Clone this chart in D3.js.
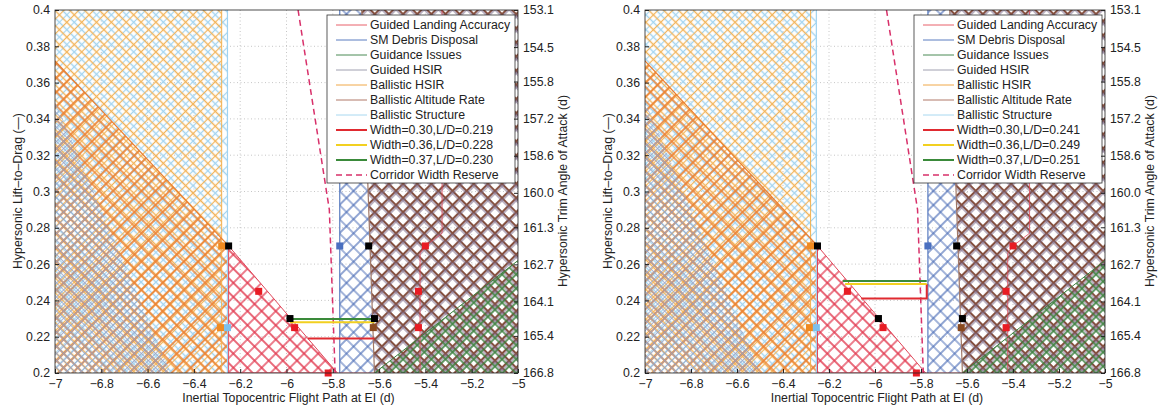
<!DOCTYPE html>
<html>
<head>
<meta charset="utf-8">
<script src="https://cdn.jsdelivr.net/npm/d3@7"></script>
<style>
  body { margin: 0; background: #fff; }
  svg text { font-family: "Liberation Sans", Arial, Helvetica, sans-serif; fill: #222; }
</style>
</head>
<body>
<svg id="chart" width="1161" height="408"></svg>
<script>
// ---- data ----
const xTicks = [-7, -6.8, -6.6, -6.4, -6.2, -6, -5.8, -5.6, -5.4, -5.2, -5];
const yTicks = [0.2, 0.22, 0.24, 0.26, 0.28, 0.3, 0.32, 0.34, 0.36, 0.38, 0.4];
const trimTicks = [166.8, 165.4, 164.1, 162.7, 161.3, 160.0, 158.6, 157.2, 155.8, 154.5, 153.1];

// constraint regions (flight path angle, L/D)
const ballisticStructure = [[-7, 0.2], [-6.255, 0.2], [-6.255, 0.4], [-7, 0.4]];
const ballisticHSIR = [[-7, 0.2], [-6.28, 0.2], [-6.28, 0.4], [-7, 0.4]];
const ballisticHSIRLow = [[-7, 0.2], [-7, 0.372], [-6.25, 0.27], [-6.25, 0.2]];
const guidedHSIRLow = [[-7, 0.2], [-7, 0.35], [-6.5, 0.2]];
const landingAccuracy = [[-6.25, 0.27], [-5.78, 0.2], [-6.25, 0.2]];
const landingEdge = [[-5.328, 0.4], [-5.328, 0.277], [-5.40, 0.27], [-5.423, 0.266], [-5.423, 0.2]];
const debrisDisposal = [[-5.77, 0.2], [-5.77, 0.4], [-5.675, 0.4], [-5.62, 0.2]];
const altitudeRate = [[-5.675, 0.4], [-5, 0.4], [-5, 0.2], [-5.62, 0.2]];
const guidanceIssues = [[-5.62, 0.2], [-5, 0.262], [-5, 0.2]];
const corridorReserve = [[-5.95, 0.4], [-5.815, 0.29], [-5.79, 0.2]];

// corridor width lines, one set per panel
const leftWidthLabels = ['Width=0.30,L/D=0.219', 'Width=0.36,L/D=0.228', 'Width=0.37,L/D=0.230'];
const leftWidthLines = [
  [[-5.908, 0.219], [-5.62, 0.219]],
  [[-5.985, 0.228], [-5.62, 0.228]],
  [[-5.99, 0.2298], [-5.62, 0.2298]]
];
const rightWidthLabels = ['Width=0.30,L/D=0.241', 'Width=0.36,L/D=0.249', 'Width=0.37,L/D=0.251'];
const rightWidthLines = [
  [[-6.06, 0.241], [-5.775, 0.241], [-5.775, 0.249]],
  [[-6.13, 0.249], [-5.775, 0.249]],
  [[-6.14, 0.2507], [-5.775, 0.2507]]
];

// boundary points
const blackPts = [[-6.25, 0.27], [-5.985, 0.23], [-5.62, 0.23], [-5.645, 0.27]];
const redPts = [[-6.12, 0.245], [-5.965, 0.225], [-5.82, 0.2], [-5.40, 0.27], [-5.43, 0.245], [-5.43, 0.225]];
const orangePts = [[-6.285, 0.225], [-6.28, 0.27]];
const lightBluePts = [[-6.255, 0.225]];
const bluePts = [[-5.77, 0.27]];
const brownPts = [[-5.625, 0.225]];

const legendLabels = ['Guided Landing Accuracy', 'SM Debris Disposal', 'Guidance Issues', 'Guided HSIR',
  'Ballistic HSIR', 'Ballistic Altitude Rate', 'Ballistic Structure'];

// ---- layout ----
const TOP = 10, BOTTOM = 373;
const panels = [
  { x0: 55, x1: 518, widths: leftWidthLines, labels: leftWidthLabels },
  { x0: 645, x1: 1105, widths: rightWidthLines, labels: rightWidthLabels }
];

const svg = d3.select('#chart');
const defs = svg.append('defs');

// hatch patterns: id, colour, spacing, stroke width, offset
const hatches = [
  ['hStructure', '#a3d4f0', 10.5, 1.2, 0],
  ['hHSIR', '#f2b45a', 10.5, 1.2, 5.25],
  ['hHSIRLow', '#ec8333', 10, 1.7, 0],
  ['hGuidedLow', '#93a3c6', 5, 0.8, 2.5],
  ['hLanding', '#e23a50', 10, 1.3, 0],
  ['hDebris', '#4a6cb6', 10, 1.2, 0],
  ['hAltitude', '#85503f', 10, 2.1, 0],
  ['hGuidedHSIR', '#7a6888', 10, 1, 1.8],
  ['hGuidance', '#3d7f3f', 10, 1.6, 4]
];
hatches.forEach(([id, color, s, w, dx]) => {
  const p = defs.append('pattern')
    .attr('id', id)
    .attr('patternUnits', 'userSpaceOnUse')
    .attr('width', s).attr('height', s)
    .attr('patternTransform', `rotate(45) translate(${dx},${dx})`);
  p.append('path')
    .attr('d', `M0,${s / 2}H${s}M${s / 2},0V${s}`)
    .attr('stroke', color).attr('stroke-width', w).attr('fill', 'none');
});

const legendStyles = [
  { c: '#e8606a', w: 1 }, { c: '#5a7cc0', w: 1 }, { c: '#4a8a55', w: 1 }, { c: '#a0a0b0', w: 1 },
  { c: '#f0a848', w: 1 }, { c: '#b07868', w: 1 }, { c: '#a8d8f0', w: 1 },
  { c: '#e02a30', w: 2 }, { c: '#f2d020', w: 2 }, { c: '#3a8a3a', w: 2 },
  { c: '#d8306a', w: 1.5, dash: '6,4' }
];

panels.forEach((pn, i) => drawPanel(pn, i));

function drawPanel(pn, idx) {
  const x = d3.scaleLinear().domain([-7, -5]).range([pn.x0, pn.x1]);
  const y = d3.scaleLinear().domain([0.2, 0.4]).range([BOTTOM, TOP]);
  const yTrim = d3.scaleLinear().domain([166.8, 153.1]).range([BOTTOM, TOP]);
  const line = d3.line().x(d => x(d[0])).y(d => y(d[1]));

  const g = svg.append('g');
  defs.append('clipPath').attr('id', 'clip' + idx)
    .append('rect').attr('x', pn.x0).attr('y', TOP)
    .attr('width', pn.x1 - pn.x0).attr('height', BOTTOM - TOP);

  // grid
  const grid = g.append('g').attr('stroke', '#b8b8b8').attr('stroke-dasharray', '1,2.5').attr('stroke-width', 0.8);
  grid.selectAll('.gx').data(xTicks.slice(1, -1)).join('line')
    .attr('x1', d => x(d)).attr('x2', d => x(d)).attr('y1', TOP).attr('y2', BOTTOM);
  grid.selectAll('.gy').data(yTicks.slice(1, -1)).join('line')
    .attr('y1', d => y(d)).attr('y2', d => y(d)).attr('x1', pn.x0).attr('x2', pn.x1);

  const area = g.append('g').attr('clip-path', `url(#clip${idx})`);
  const fill = (pts, id) => area.append('path').attr('d', line(pts) + 'Z').attr('fill', `url(#${id})`);
  fill(ballisticStructure, 'hStructure');
  fill(ballisticHSIR, 'hHSIR');
  fill(ballisticHSIRLow, 'hHSIRLow');
  fill(guidedHSIRLow, 'hGuidedLow');
  fill(landingAccuracy, 'hLanding');
  fill(debrisDisposal, 'hDebris');
  fill(altitudeRate, 'hAltitude');
  fill(altitudeRate, 'hGuidedHSIR');
  fill(guidanceIssues, 'hGuidance');

  const edge = (pts, color, w, dash) => area.append('path').attr('d', line(pts))
    .attr('fill', 'none').attr('stroke', color).attr('stroke-width', w || 1)
    .attr('stroke-dasharray', dash || null);
  edge([[-6.255, 0.2], [-6.255, 0.4]], '#9fd2f0', 1.2);
  edge([[-6.28, 0.2], [-6.28, 0.4]], '#f2b150', 1);
  edge([[-7, 0.372], [-6.25, 0.27]], '#ea7c2c', 1.2);
  edge(landingAccuracy.concat([landingAccuracy[0]]), '#e0475a', 1);
  edge([[-6.25, 0.2], [-5.62, 0.2]], '#f08090', 1.2);
  edge(landingEdge, '#e0475a', 0.8);
  edge([[-5.77, 0.2], [-5.77, 0.4]], '#5a7cc0', 1.2);
  edge([[-5.675, 0.4], [-5.62, 0.2]], '#a07868', 1.2);
  edge([[-5.62, 0.2], [-5, 0.262]], '#3d7f3f', 1);
  edge(corridorReserve, '#d8306a', 1.5, '6,4');

  const wStyles = legendStyles.slice(7, 10);
  pn.widths.forEach((pts, k) => edge(pts, wStyles[k].c, 2));

  // markers
  const sq = (pts, color) => g.append('g').selectAll('rect').data(pts).join('rect')
    .attr('x', d => x(d[0]) - 3.5).attr('y', d => y(d[1]) - 3.5)
    .attr('width', 7).attr('height', 7).attr('fill', color);
  sq(orangePts, '#f08a20');
  sq(lightBluePts, '#7cc0ec');
  sq(bluePts, '#4a70c0');
  sq(brownPts, '#8a4a20');
  sq(redPts, '#e81c24');
  sq(blackPts, '#000');

  // legend
  const lg = g.append('g');
  const lx = pn.x1 - 191, lw = 188, ly = 15, lh = 168;
  lg.append('rect').attr('x', lx).attr('y', ly).attr('width', lw).attr('height', lh)
    .attr('fill', '#fff').attr('stroke', '#333').attr('stroke-width', 0.8);
  const labels = legendLabels.concat(pn.labels, ['Corridor Width Reserve']);
  labels.forEach((t, k) => {
    const yy = 25 + k * 15;
    const st = legendStyles[k];
    lg.append('line').attr('x1', lx + 9).attr('x2', lx + 40).attr('y1', yy).attr('y2', yy)
      .attr('stroke', st.c).attr('stroke-width', st.w).attr('stroke-dasharray', st.dash || null);
    lg.append('text').attr('x', lx + 43).attr('y', yy + 4.3).attr('font-size', 12.3).text(t);
  });

  // axes box and ticks
  g.append('rect').attr('x', pn.x0).attr('y', TOP).attr('width', pn.x1 - pn.x0).attr('height', BOTTOM - TOP)
    .attr('fill', 'none').attr('stroke', '#222').attr('stroke-width', 0.8);

  const fmtX = d => d3.format('')(d).replace('-', '\u2212');
  const ax = g.append('g').attr('transform', `translate(0,${BOTTOM})`)
    .call(d3.axisBottom(x).tickValues(xTicks).tickFormat(fmtX).tickSizeInner(-4).tickSizeOuter(0).tickPadding(6));
  const ay = g.append('g').attr('transform', `translate(${pn.x0},0)`)
    .call(d3.axisLeft(y).tickValues(yTicks).tickFormat(d3.format('')).tickSizeInner(-4).tickSizeOuter(0).tickPadding(5));
  const ar = g.append('g').attr('transform', `translate(${pn.x1},0)`)
    .call(d3.axisRight(yTrim).tickValues(trimTicks).tickFormat(d3.format('.1f')).tickSizeInner(-4).tickSizeOuter(0).tickPadding(5));
  [ax, ay, ar].forEach(a => {
    a.select('.domain').remove();
    a.selectAll('line').attr('stroke', '#222');
    a.selectAll('text').attr('font-size', 12.3).attr('fill', '#222')
      .style('font-family', '"Liberation Sans", Arial, sans-serif');
  });

  const mid = (pn.x0 + pn.x1) / 2;
  g.append('text').attr('x', mid + 2).attr('y', 402).attr('text-anchor', 'middle').attr('font-size', 12.3)
    .text('Inertial Topocentric Flight Path at EI  (d)');
  g.append('text').attr('transform', `translate(${pn.x0 - 33},191) rotate(-90)`).attr('text-anchor', 'middle')
    .attr('font-size', 12.3).text('Hypersonic Lift\u2013to\u2013Drag  (\u2014)');
  g.append('text').attr('transform', `translate(${pn.x1 + 49},191) rotate(-90)`).attr('text-anchor', 'middle')
    .attr('font-size', 12.3).text('Hypersonic Trim Angle of Attack (d)');
}
</script>
</body>
</html>
